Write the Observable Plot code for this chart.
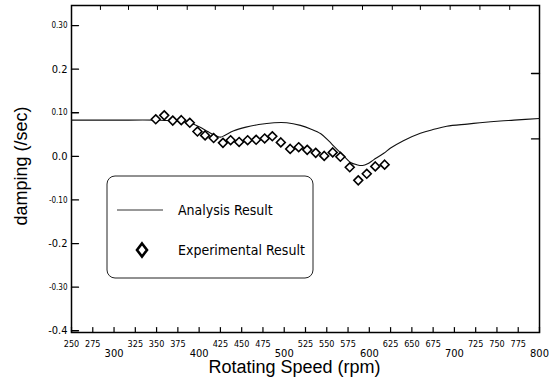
<!DOCTYPE html>
<html><head><meta charset="utf-8">
<script src="https://cdn.jsdelivr.net/npm/d3@7"></script>
<script src="https://cdn.jsdelivr.net/npm/@observablehq/plot@0.6"></script>
<style>body{margin:0;background:#fff}</style>
</head><body><div id="chart"></div>
<script>
// ---- data ----
const analysisRpm = [250, 300, 350, 375, 390, 400, 410, 420, 425, 430, 440, 455, 470, 488, 503, 519, 531, 543, 552, 560, 570, 578, 585, 592, 598, 605, 617, 625, 640, 660, 676, 691, 715, 730, 754, 770, 800];
const analysisDamping = [0.083, 0.083, 0.083, 0.081, 0.076, 0.068, 0.057, 0.047, 0.044, 0.048, 0.058, 0.067, 0.073, 0.077, 0.077, 0.071, 0.063, 0.052, 0.036, 0.020, 0.001, -0.014, -0.019, -0.021, -0.017, -0.008, 0.007, 0.019, 0.036, 0.053, 0.062, 0.069, 0.074, 0.077, 0.081, 0.083, 0.087];
const expRpm = [349, 359, 369, 379, 389, 398, 407, 417, 428, 437, 447, 457, 467, 477, 486, 496, 507, 517, 527, 537, 547, 557, 566, 577, 587, 597, 607, 618];
const expDamping = [0.085, 0.094, 0.082, 0.083, 0.077, 0.057, 0.048, 0.042, 0.031, 0.037, 0.033, 0.037, 0.038, 0.041, 0.046, 0.032, 0.017, 0.021, 0.015, 0.008, 0.001, 0.009, -0.001, -0.025, -0.055, -0.040, -0.023, -0.019];
const xTicksSmall = [250, 275, 325, 350, 375, 425, 450, 475, 525, 550, 575, 625, 650, 675, 725, 750, 775];
const xTicksLarge = [300, 400, 500, 600, 700, 800];
const xTicksAll = [250, 275, 300, 325, 350, 375, 400, 425, 450, 475, 500, 525, 550, 575, 600, 625, 650, 675, 700, 725, 750, 775, 800];
const topTicks = [284, 317, 351, 386, 419, 452, 487, 523, 557, 592, 627, 660, 695, 730, 765];
const yTicksSmall = [0.3, 0.1, -0.1, -0.3];
const yTicksSmallLabels = ["0.30", "0.10", "-0.10", "-0.30"];
const yTicksLarge = [0.2, 0.0, -0.2, -0.4];
const yTicksLargeLabels = ["0.2", "0.0", "-0.2", "-0.4"];
const yTicksAll = [0.3, 0.2, 0.1, 0.0, -0.1, -0.2, -0.3, -0.4];
const rightTicks = [0.19, 0.04];
const legendLabels = ["Analysis Result", "Experimental Result"];
const xLabel = "Rotating Speed (rpm)";
const yLabel = "damping (/sec)";

const analysis = analysisRpm.map((x, i) => ({x, y: analysisDamping[i]}));
const experiment = expRpm.map((x, i) => ({x, y: expDamping[i]}));

const narrow = "'Liberation Sans Narrow', 'DejaVu Sans Condensed', 'Liberation Sans', sans-serif";
const tickShape = {draw(ctx, l) { ctx.moveTo(0, 0); ctx.lineTo(0, -l); }};

const plot = Plot.plot({
  width: 552,
  height: 388,
  marginLeft: 71,
  marginRight: 13,
  marginTop: 5,
  marginBottom: 56,
  style: {fontFamily: narrow, background: "#fff", color: "#000"},
  x: {domain: [250, 800]},
  y: {domain: [-0.404, 0.346]},
  marks: [
    Plot.frame({stroke: "#000", strokeWidth: 1.5}),
    // inward ticks
    Plot.vector(xTicksAll, {x: d => d, frameAnchor: "bottom", length: 5, rotate: 0, anchor: "start", shape: tickShape, stroke: "#000", strokeWidth: 1.2}),
    Plot.vector(topTicks, {x: d => d, frameAnchor: "top", length: 4, rotate: 180, anchor: "start", shape: tickShape, stroke: "#000", strokeWidth: 1}),
    Plot.vector(yTicksAll, {y: d => d, frameAnchor: "left", length: 7, rotate: 90, anchor: "start", shape: tickShape, stroke: "#000", strokeWidth: 1.3}),
    Plot.vector(rightTicks, {y: d => d, frameAnchor: "right", length: 8, rotate: -90, anchor: "start", shape: tickShape, stroke: "#000", strokeWidth: 1.3}),
    // tick labels
    Plot.axisX({ticks: xTicksSmall, tickSize: 0, tickPadding: 8, fontSize: 9, label: null, tickFormat: d => String(d)}),
    Plot.axisX({ticks: xTicksLarge, tickSize: 0, tickPadding: 17, fontSize: 11, label: null, tickFormat: d => String(d)}),
    Plot.axisY({ticks: yTicksSmall, tickSize: 0, tickPadding: 4, fontSize: 8, label: null, tickFormat: d => yTicksSmallLabels[yTicksSmall.indexOf(d)]}),
    Plot.axisY({ticks: yTicksLarge, tickSize: 0, tickPadding: 4, fontSize: 11, label: null, tickFormat: d => yTicksLargeLabels[yTicksLarge.indexOf(d)]}),
    // axis titles
    Plot.text([xLabel], {frameAnchor: "bottom", dx: -11, dy: 35, fontSize: 18, fontFamily: "'Liberation Sans', Arial, sans-serif", textAnchor: "middle", lineAnchor: "middle"}),
    Plot.text([yLabel], {frameAnchor: "left", dx: -50, dy: -3, rotate: -90, fontSize: 18, fontFamily: "'Liberation Sans', Arial, sans-serif", textAnchor: "middle", lineAnchor: "middle"}),
    // data
    Plot.line(analysis, {x: "x", y: "y", stroke: "#111", strokeWidth: 1.1, curve: "catmull-rom"}),
    Plot.dot(experiment, {x: "x", y: "y", symbol: "diamond2", r: 4, stroke: "#000", strokeWidth: 1.6, fill: "#fff"})
  ]
});

document.getElementById("chart").appendChild(plot);

// legend box drawn into the same SVG
const svg = d3.select(plot);
const g = svg.append("g").attr("font-family", narrow).attr("text-anchor", "start");
g.append("rect").attr("x", 107).attr("y", 176).attr("width", 206).attr("height", 102)
  .attr("rx", 8).attr("fill", "#fff").attr("stroke", "#222").attr("stroke-width", 1);
g.append("line").attr("x1", 117).attr("x2", 163).attr("y1", 210).attr("y2", 210)
  .attr("stroke", "#333").attr("stroke-width", 1);
g.append("path").attr("transform", "translate(142,250)")
  .attr("d", "M0,-6.5L5,0L0,6.5L-5,0Z").attr("fill", "#fff").attr("stroke", "#000").attr("stroke-width", 2.6);
g.append("text").attr("x", 178).attr("y", 215).attr("font-size", 14).attr("text-anchor", "start").text(legendLabels[0]);
g.append("text").attr("x", 178).attr("y", 255).attr("font-size", 14).attr("text-anchor", "start").text(legendLabels[1]);
</script>
</body></html>
